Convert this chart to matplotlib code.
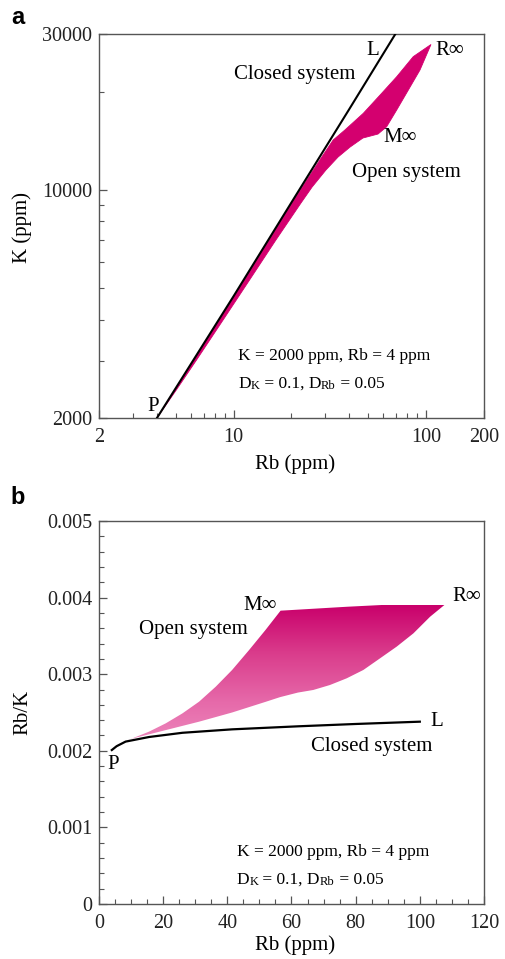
import numpy as np
import matplotlib
matplotlib.use("Agg")
import matplotlib.pyplot as plt
import matplotlib.ticker as mtick
from matplotlib.patches import Polygon
from matplotlib.colors import LinearSegmentedColormap

plt.rcParams['font.family'] = ['Liberation Serif', 'DejaVu Serif']

# ---------------- panel a : K vs Rb (log-log) ----------------
closed_a_rb = [4, 10, 20, 40, 70]
closed_a_k = [2000, 4720, 9150, 17700, 30300]

# open-system envelope: upper edge P -> R_inf, then lower edge R_inf -> M_inf -> P
open_a_upper_rb = [4, 8.4, 13.2, 20.6, 28.5, 32.9, 37.9, 47.2, 57.7, 70.4, 85.8, 106.1]
open_a_upper_k = [2000, 3990, 6090, 9305, 12510, 14200, 15250, 17150, 19510, 22200, 25580, 27870]
open_a_lower_rb = [106.1, 93.0, 80.9, 70.4, 62.4, 56.3, 47.0, 40.3, 34.9, 30.2, 25.6, 22.4,
                   16.6, 12.1, 8.82, 6.42, 5.05, 4]
open_a_lower_k = [27870, 23280, 20210, 17560, 15600, 14820, 14410, 13520, 12600, 11500, 10200, 9110,
                  7020, 5290, 3990, 3010, 2440, 2000]

# ---------------- panel b : Rb/K vs Rb ----------------
closed_b_rb = [4, 5.5, 8.3, 15.6, 26, 41.5, 62.3, 80, 100]
closed_b_ratio = [0.00201, 0.00206, 0.00212, 0.00218, 0.002235, 0.00228, 0.00232, 0.00235, 0.00238]

open_b_left_rb = [4, 6.2, 10.4, 15.6, 20.8, 26.0, 31.2, 36.4, 41.5, 46.8, 51.9, 56.6]
open_b_left_ratio = [0.00201, 0.002089, 0.002162, 0.00225, 0.002358, 0.002488, 0.002641,
                     0.002837, 0.003055, 0.003316, 0.003577, 0.003829]
open_b_top_rb = [56.6, 77.2, 98, 108.9]
open_b_top_ratio = [0.003829, 0.00388, 0.003924, 0.003946]
open_b_lower_rb = [108.9, 103.2, 98, 92.8, 87.6, 82.4, 77.2, 72, 66.8, 62, 56.4, 52, 41.5,
                   31.2, 20.8, 10.4, 6.2, 4]
open_b_lower_ratio = [0.003946, 0.00375, 0.003533, 0.00336, 0.003207, 0.003055, 0.002946,
                      0.002859, 0.002794, 0.00276, 0.00270, 0.00264, 0.00250, 0.00238,
                      0.00227, 0.00216, 0.00209, 0.00201]

x_ticks_a = [2, 10, 100, 200]
y_ticks_a = [2000, 10000, 30000]
x_ticks_b = [0, 20, 40, 60, 80, 100, 120]
y_ticks_b = [0, 0.001, 0.002, 0.003, 0.004, 0.005]
y_ticklabels_b = ['0', '0.001', '0.002', '0.003', '0.004', '0.005']

note1 = "K = 2000 ppm, Rb = 4 ppm"
note2 = [("D", 12.5), ("K", 9), (" = 0.1, D", 12.5), ("Rb", 9), (" = 0.05", 12.5)]

MAGENTA = '#D4006F'
SPINE = '#555555'
TXT = 15
TICK = 14.5


def style_axes(ax):
    for s in ax.spines.values():
        s.set_color(SPINE)
        s.set_linewidth(1.0)
    ax.tick_params(which='both', direction='in', top=False, right=False,
                   color=SPINE, labelsize=TICK, labelcolor='#222222')
    ax.tick_params(which='major', length=6, width=0.9)
    ax.tick_params(which='minor', length=3.5, width=0.8)
    ax.tick_params(axis='x', pad=7)
    ax.tick_params(axis='y', pad=5)


def add_notes(ax, x, y1, y2):
    ax.text(x, y1, note1, transform=ax.transAxes, fontsize=12.5, va='bottom', ha='left')
    t = ax.text(x, y2, note2[0][0], transform=ax.transAxes, fontsize=note2[0][1],
                va='bottom', ha='left')
    for s, fs in note2[1:]:
        t = ax.annotate(s, xy=(1, 0), xycoords=t, fontsize=fs, va='bottom', ha='left')


fig = plt.figure(figsize=(5.05, 9.59), dpi=100)

# ---------------- panel a ----------------
ax = fig.add_axes([0.196, 0.5641, 0.7624, 0.4004])
ax.set_xscale('log')
ax.set_yscale('log')
poly_a = list(zip(open_a_upper_rb + open_a_lower_rb, open_a_upper_k + open_a_lower_k))
ax.add_patch(Polygon(poly_a, closed=True, facecolor=MAGENTA, edgecolor=MAGENTA, lw=0.6, zorder=2))
ax.plot(closed_a_rb, closed_a_k, color='black', lw=1.5, zorder=3)
ax.set_xlim(2, 200)
ax.set_ylim(2000, 30000)
ax.xaxis.set_major_locator(mtick.FixedLocator(x_ticks_a))
ax.xaxis.set_major_formatter(mtick.FixedFormatter([str(v) for v in x_ticks_a]))
ax.xaxis.set_minor_locator(mtick.FixedLocator([3, 4, 5, 6, 7, 8, 9, 20, 30, 40, 50, 60, 70, 80, 90]))
ax.xaxis.set_minor_formatter(mtick.NullFormatter())
ax.yaxis.set_major_locator(mtick.FixedLocator(y_ticks_a))
ax.yaxis.set_major_formatter(mtick.FixedFormatter([str(v) for v in y_ticks_a]))
ax.yaxis.set_minor_locator(mtick.FixedLocator([3000, 4000, 5000, 6000, 7000, 8000, 9000, 20000]))
ax.yaxis.set_minor_formatter(mtick.NullFormatter())
style_axes(ax)
ax.set_xlabel('Rb (ppm)', fontsize=TXT)
ax.set_ylabel('K (ppm)', fontsize=TXT)
ax.xaxis.set_label_coords(0.51, -0.094)
ax.yaxis.set_label_coords(-0.174, 0.495)

ax.text(20.7, 22630, 'Closed system', fontsize=TXT, ha='center', va='center')
ax.text(53.0, 26800, 'L', fontsize=TXT, ha='center', va='center')
ax.text(111.3, 26800, 'R∞', fontsize=TXT, ha='left', va='center')
ax.text(59.8, 14510, 'M∞', fontsize=TXT, ha='left', va='center')
ax.text(41.2, 11260, 'Open system', fontsize=TXT, ha='left', va='center')
ax.text(3.82, 2170, 'P', fontsize=TXT, ha='center', va='center')
add_notes(ax, 0.361, 0.140, 0.068)
fig.text(18 / 505, 1 - 17 / 959, 'a', fontsize=17, fontweight='bold',
         family='Liberation Sans', ha='center', va='center')

# ---------------- panel b ----------------
bx = fig.add_axes([0.196, 0.05735, 0.7624, 0.3994])
poly_b = list(zip(open_b_left_rb + open_b_top_rb[1:] + open_b_lower_rb[1:],
                  open_b_left_ratio + open_b_top_ratio[1:] + open_b_lower_ratio[1:]))
patch_b = Polygon(poly_b, closed=True, facecolor='none', edgecolor='none', zorder=2)
bx.add_patch(patch_b)
cmap = LinearSegmentedColormap.from_list('pk', ['#EE8CBF', '#E66AAA', '#DA3D8C', '#C9006B'])
grad = np.linspace(0, 1, 256)[:, None] * np.ones((1, 8))
im = bx.imshow(grad, extent=[0, 120, 0.0020, 0.0039], origin='lower', aspect='auto',
               cmap=cmap, zorder=2, interpolation='bilinear')
im.set_clip_path(patch_b)
bx.plot(closed_b_rb, closed_b_ratio, color='black', lw=1.6, zorder=3)
bx.set_xlim(0, 120)
bx.set_ylim(0, 0.005)
bx.set_xticks(x_ticks_b)
bx.set_xticklabels([str(v) for v in x_ticks_b])
bx.xaxis.set_minor_locator(mtick.MultipleLocator(5))
bx.set_yticks(y_ticks_b)
bx.set_yticklabels(y_ticklabels_b)
bx.yaxis.set_minor_locator(mtick.MultipleLocator(0.0002))
style_axes(bx)
bx.set_xlabel('Rb (ppm)', fontsize=TXT)
bx.set_ylabel('Rb/K', fontsize=TXT)
bx.xaxis.set_label_coords(0.51, -0.081)
bx.yaxis.set_label_coords(-0.174, 0.5)

bx.text(55.5, 0.003903, 'M∞', fontsize=TXT, ha='right', va='center')
bx.text(29.3, 0.003577, 'Open system', fontsize=TXT, ha='center', va='center')
bx.text(110.0, 0.004008, 'R∞', fontsize=TXT, ha='left', va='center')
bx.text(103.2, 0.002376, 'L', fontsize=TXT, ha='left', va='center')
bx.text(84.9, 0.00205, 'Closed system', fontsize=TXT, ha='center', va='center')
bx.text(4.4, 0.001815, 'P', fontsize=TXT, ha='center', va='center')
add_notes(bx, 0.358, 0.114, 0.042)
fig.text(18 / 505, 1 - 497 / 959, 'b', fontsize=17, fontweight='bold',
         family='Liberation Sans', ha='center', va='center')

fig.savefig('out.png', dpi=100)
